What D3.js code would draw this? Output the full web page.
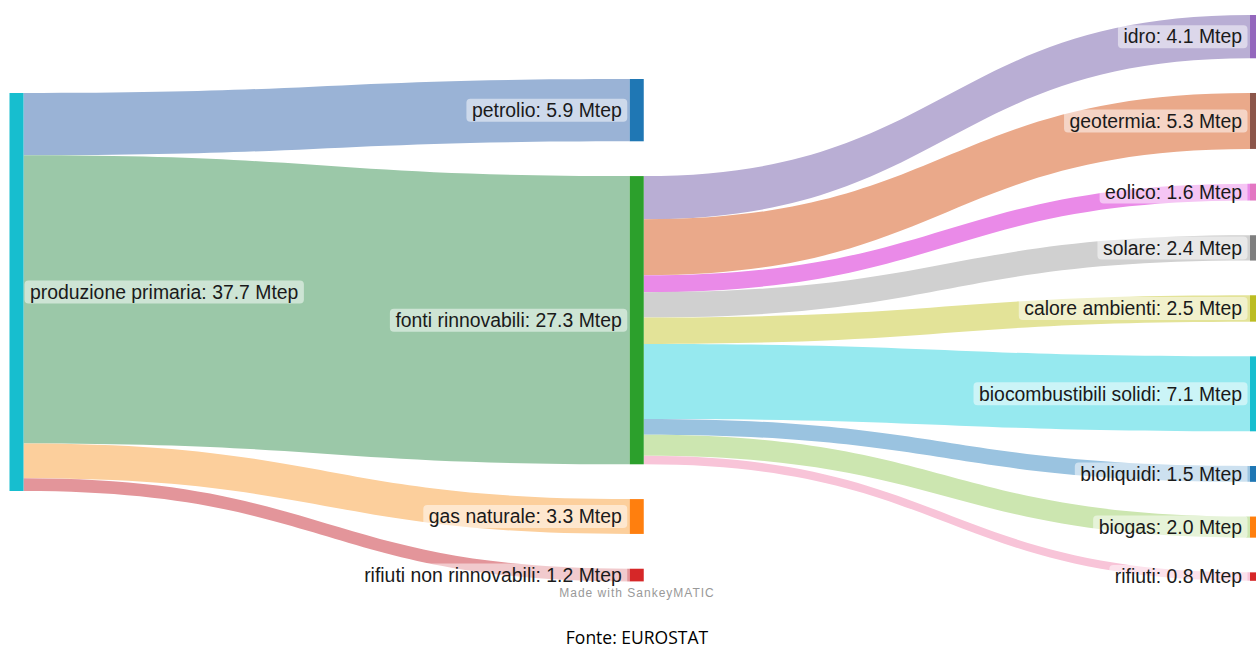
<!DOCTYPE html>
<html><head><meta charset="utf-8">
<script src="https://cdn.jsdelivr.net/npm/d3@7"></script>
<style>body{margin:0;background:#fff;overflow:hidden;} svg{display:block;}</style>
</head><body>
<svg id="chart" width="1256" height="650"></svg>
<script>
// ---- data ----
const nodeNames = ["produzione primaria","petrolio","fonti rinnovabili","gas naturale","rifiuti non rinnovabili",
  "idro","geotermia","eolico","solare","calore ambienti","biocombustibili solidi","bioliquidi","biogas","rifiuti"];
const nodeColumns = [0,1,1,1,1,2,2,2,2,2,2,2,2,2];
const nodeColors = ["#17becf","#1f77b4","#2ca02c","#ff7f0e","#d62728",
  "#9467bd","#8c564b","#e377c2","#7f7f7f","#bcbd22","#17becf","#1f77b4","#ff7f0e","#d62728"];
const linkSources = ["produzione primaria","produzione primaria","produzione primaria","produzione primaria",
  "fonti rinnovabili","fonti rinnovabili","fonti rinnovabili","fonti rinnovabili","fonti rinnovabili",
  "fonti rinnovabili","fonti rinnovabili","fonti rinnovabili","fonti rinnovabili"];
const linkTargets = ["petrolio","fonti rinnovabili","gas naturale","rifiuti non rinnovabili",
  "idro","geotermia","eolico","solare","calore ambienti","biocombustibili solidi","bioliquidi","biogas","rifiuti"];
const linkValues = [5.9, 27.3, 3.3, 1.2, 4.1, 5.3, 1.6, 2.4, 2.5, 7.1, 1.5, 2.0, 0.8];
const linkColors = ["#9ab3d6","#9bc8a8","#fccf9c","#e3959a",
  "#b9aed4","#eaa98a","#ea8ae8","#d0d0d0","#e3e398","#96e9ef","#9ac3e0","#cce6b0","#f8c4d8"];
const unit = "Mtep";

// ---- layout ----
const svg = d3.select("#chart");
const nodeW = 14;
const colGap = [35, 34.8, 34.7];
const colTop = [93, 79, 15];
const xCol = d3.scaleLinear().domain([0, 2]).range([9.5, 1250]);
const h = d3.scaleLinear().domain([0, 37.7]).range([0, 398]);

const nodes = nodeNames.map((n, i) => ({name: n, col: nodeColumns[i], color: nodeColors[i], ins: [], outs: []}));
const byName = new Map(nodes.map(d => [d.name, d]));
const links = linkValues.map((v, i) => {
  const l = {source: byName.get(linkSources[i]), target: byName.get(linkTargets[i]), value: v, color: linkColors[i]};
  l.source.outs.push(l); l.target.ins.push(l);
  return l;
});
nodes.forEach(d => {
  d.value = Math.max(d3.sum(d.ins, l => l.value), d3.sum(d.outs, l => l.value));
  d.x = xCol(d.col);
});
[0,1,2].forEach(c => {
  let y = colTop[c];
  nodes.filter(d => d.col === c).forEach(d => {
    d.y0 = y; d.y1 = y + h(d.value); y = d.y1 + colGap[c];
  });
});
nodes.forEach(d => {
  let y = d.y0;
  d.outs.forEach(l => { l.sy0 = y; y += h(l.value); l.sy1 = y; });
  y = d.y0;
  d.ins.forEach(l => { l.ty0 = y; y += h(l.value); l.ty1 = y; });
});

// ---- links ----
svg.append("g").selectAll("path").data(links).join("path")
  .attr("fill", d => d.color)
  .attr("d", d => {
    const x0 = d.source.x + nodeW, x1 = d.target.x, xm = (x0 + x1) / 2;
    return `M${x0},${d.sy0}C${xm},${d.sy0} ${xm},${d.ty0} ${x1},${d.ty0}` +
           `L${x1},${d.ty1}C${xm},${d.ty1} ${xm},${d.sy1} ${x0},${d.sy1}Z`;
  });

// ---- nodes ----
svg.append("g").selectAll("rect").data(nodes).join("rect")
  .attr("x", d => d.x).attr("y", d => d.y0)
  .attr("width", nodeW).attr("height", d => d.y1 - d.y0)
  .attr("fill", d => d.color);

// ---- labels ----
const lg = svg.append("g").attr("font-family", "'Liberation Sans', Arial, sans-serif").attr("font-size", 19.4);
nodes.forEach(d => {
  const g = lg.append("g");
  const cy = (d.y0 + d.y1) / 2;
  const rect = g.append("rect");
  const t = g.append("text")
    .attr("x", d.col === 0 ? d.x + nodeW + 6.5 : d.x - 8)
    .attr("y", cy).attr("dy", "0.35em")
    .attr("text-anchor", d.col === 0 ? "start" : "end")
    .attr("fill", "#1a1a1a")
    .text(`${d.name}: ${d.value.toFixed(1)} ${unit}`);
  const bb = t.node().getBBox();
  rect.attr("x", bb.x - 5.5).attr("width", bb.width + 11)
    .attr("y", cy - 11.5).attr("height", 23).attr("rx", 4)
    .attr("fill", "#fff").attr("fill-opacity", 0.5);
});

// ---- credits ----
svg.append("text").attr("x", 637).attr("y", 597).attr("text-anchor", "middle")
  .attr("font-family", "'Liberation Sans', Arial, sans-serif").attr("font-size", 12)
  .attr("letter-spacing", 1).attr("fill", "#999").text("Made with SankeyMATIC");
svg.append("text").attr("x", 637).attr("y", 644).attr("text-anchor", "middle")
  .attr("font-family", "'Open Sans', sans-serif").attr("font-size", 17.5)
  .attr("fill", "#000").text("Fonte: EUROSTAT");
</script>
</body></html>
